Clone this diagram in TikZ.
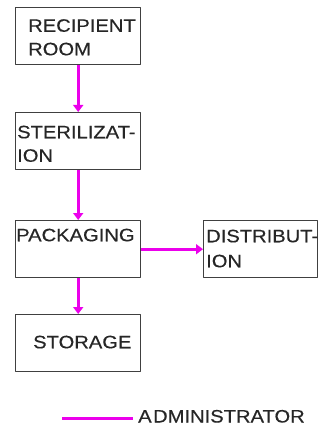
\documentclass[tikz,border=0pt]{standalone}
\usepackage{fontspec}
\setmainfont{Liberation Sans}[FakeStretch=1.12,FakeBold=0.4]
\usetikzlibrary{arrows.meta}
\definecolor{admin}{RGB}{235,0,235}
\begin{document}
\begin{tikzpicture}[x=1pt,y=-1pt,line join=round,>={Triangle[width=10pt,length=7pt]}]
				\tikzset{stage/.style={draw=black!75,line width=1.4pt,minimum width=125pt,minimum height=57pt,inner sep=0pt,anchor=north west},
					label/.style={inner sep=0pt,anchor=north west,align=left,text=black!85,font=\fontsize{18}{23.5}\selectfont},
					flow/.style={->,admin,line width=3pt}}
				\useasboundingbox (0,0) rectangle (320,425);
				% boxes
				\node[stage] (room) at (15,7) {};
				\node[stage] (steril) at (15,112) {};
				\node[stage] (pack) at (15,220) {};
				\node[stage,minimum width=114pt] (distr) at (203,220) {};
				\node[stage] (store) at (15,314) {};
				% texts
				\node[label] (roomtxt) at (28,19) {RECIPIENT\\ROOM};
				\node[label] (steriltxt) at (17,125.5) {STERILIZAT-\\ION};
				\node[label] (packtxt) at (16,228.5) {PACKAGING};
				\node[label,font=\fontsize{18}{25}\selectfont] (distrtxt) at (206,229.5) {DISTRIBUT-\\ION};
				\node[label] (storetxt) at (33,335.5) {STORAGE};
				% connectors
				\draw[flow] (room.south) -- (steril.north);
				\draw[flow] (steril.south) -- (pack.north);
				\draw[flow] (pack.south) -- (store.north);
				\draw[flow] (pack.east) -- (distr.west);
				% legend
				\coordinate (keyA) at (62,418);
				\node[label,anchor=base west] (key) at (138,422.5) {A\kern1.5pt DMINISTRATOR};
				\draw[admin,line width=3pt] (keyA) -- ([xshift=-5pt]key.west |- keyA);
\end{tikzpicture}
\end{document}
